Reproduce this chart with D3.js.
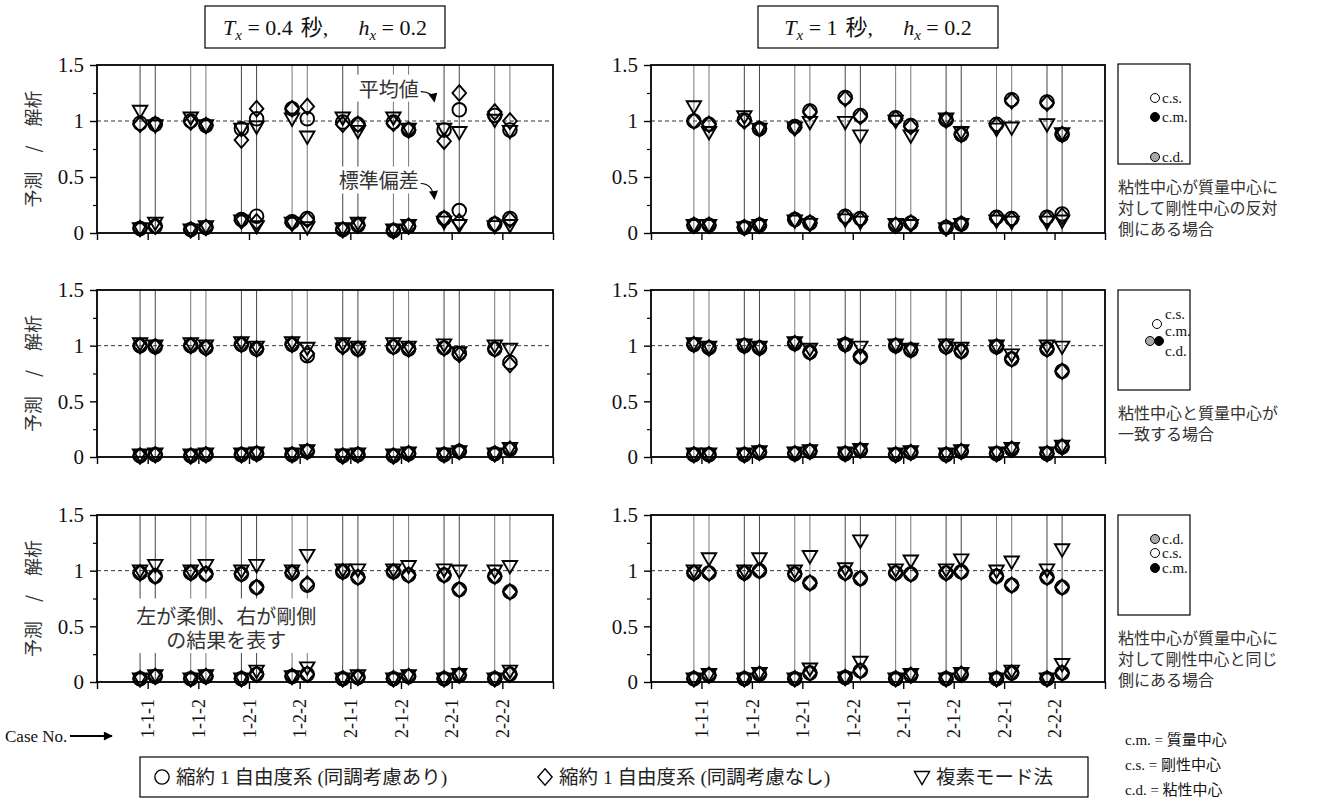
<!DOCTYPE html>
<html><head><meta charset="utf-8">
<script src="https://cdn.jsdelivr.net/npm/d3@7/dist/d3.min.js"></script>
<style>body{margin:0;background:#fff} svg{display:block}</style>
</head><body><svg id="c" width="1325" height="798"></svg>
<script>
// ---------------- DATA ----------------
const cases = ["1-1-1","1-1-2","1-2-1","1-2-2","2-1-1","2-1-2","2-2-1","2-2-2"];
const yTickValues = [0, 0.5, 1, 1.5];
const yTickLabels = ["0", "0.5", "1", "1.5"];
const yMinorTicks = [0.25, 0.75, 1.25];
const methods = ["縮約 1 自由度系 (同調考慮あり)", "縮約 1 自由度系 (同調考慮なし)", "複素モード法"];
const titlePeriods = ["0.4", "1"];
const titleDamping = "0.2";
const yLabel = "予測 / 解析";
const sideNotes = [
  ["粘性中心が質量中心に", "対して剛性中心の反対", "側にある場合"],
  ["粘性中心と質量中心が", "一致する場合"],
  ["粘性中心が質量中心に", "対して剛性中心と同じ", "側にある場合"]
];
const definitions = ["c.m. = 質量中心", "c.s. = 剛性中心", "c.d. = 粘性中心"];

// each entry: [left (柔側), right (剛側)]
// Panel A : Tx=0.4, opposite side
const A_circleMean  = [[0.98,0.97],[1.00,0.96],[0.93,1.02],[1.11,1.02],[0.99,0.97],[0.99,0.92],[0.92,1.10],[1.05,0.92]];
const A_diamondMean = [[0.97,0.97],[0.99,0.96],[0.83,1.11],[1.11,1.13],[0.97,0.97],[0.98,0.92],[0.82,1.25],[1.08,1.00]];
const A_triMean     = [[1.09,0.96],[1.03,0.96],[0.93,0.95],[1.02,0.86],[1.03,0.91],[1.03,0.93],[0.93,0.90],[1.01,0.91]];
const A_circleStd   = [[0.04,0.06],[0.03,0.05],[0.12,0.15],[0.10,0.13],[0.03,0.07],[0.02,0.06],[0.13,0.20],[0.08,0.13]];
const A_diamondStd  = [[0.04,0.06],[0.03,0.05],[0.11,0.10],[0.09,0.12],[0.03,0.07],[0.02,0.06],[0.13,0.10],[0.08,0.12]];
const A_triStd      = [[0.04,0.09],[0.03,0.06],[0.11,0.06],[0.09,0.05],[0.04,0.09],[0.03,0.07],[0.10,0.07],[0.06,0.07]];
// Panel B : Tx=1, opposite side
const B_circleMean  = [[1.00,0.97],[1.01,0.93],[0.95,1.09],[1.21,1.05],[1.03,0.96],[1.01,0.88],[0.97,1.19],[1.17,0.88]];
const B_diamondMean = [[1.00,0.97],[1.00,0.93],[0.94,1.08],[1.20,1.04],[1.02,0.95],[1.01,0.88],[0.96,1.18],[1.16,0.88]];
const B_triMean     = [[1.13,0.90],[1.04,0.93],[0.94,0.99],[0.99,0.87],[1.00,0.87],[1.02,0.90],[0.93,0.94],[0.97,0.89]];
const B_circleStd   = [[0.07,0.07],[0.05,0.07],[0.12,0.09],[0.15,0.13],[0.07,0.09],[0.05,0.08],[0.14,0.13],[0.14,0.17]];
const B_diamondStd  = [[0.07,0.07],[0.05,0.07],[0.12,0.09],[0.14,0.12],[0.07,0.09],[0.05,0.08],[0.13,0.12],[0.13,0.15]];
const B_triStd      = [[0.07,0.07],[0.05,0.07],[0.11,0.08],[0.12,0.10],[0.08,0.07],[0.04,0.08],[0.11,0.10],[0.10,0.11]];
// Panel C : Tx=0.4, coincident
const C_circleMean  = [[1.00,0.99],[1.00,0.98],[1.01,0.97],[1.01,0.91],[1.00,0.97],[0.99,0.97],[0.98,0.93],[0.97,0.85]];
const C_diamondMean = [[1.00,0.99],[1.00,0.98],[1.01,0.97],[1.01,0.93],[0.99,0.97],[0.99,0.97],[0.98,0.92],[0.97,0.83]];
const C_triMean     = [[1.02,1.00],[1.02,1.00],[1.03,0.99],[1.03,0.98],[1.02,0.99],[1.02,0.99],[1.01,0.94],[1.00,0.97]];
const C_circleStd   = [[0.01,0.02],[0.01,0.02],[0.02,0.03],[0.02,0.05],[0.01,0.02],[0.01,0.03],[0.02,0.05],[0.03,0.07]];
const C_diamondStd  = [[0.01,0.02],[0.01,0.02],[0.02,0.03],[0.02,0.05],[0.01,0.02],[0.01,0.03],[0.02,0.05],[0.03,0.07]];
const C_triStd      = [[0.02,0.03],[0.02,0.03],[0.03,0.04],[0.03,0.06],[0.02,0.03],[0.02,0.04],[0.03,0.05],[0.03,0.08]];
// Panel D : Tx=1, coincident
const D_circleMean  = [[1.01,0.98],[1.00,0.98],[1.02,0.94],[1.01,0.90],[1.00,0.96],[0.99,0.95],[0.99,0.88],[0.97,0.77]];
const D_diamondMean = [[1.01,0.98],[1.00,0.98],[1.02,0.94],[1.01,0.90],[1.00,0.96],[0.99,0.95],[0.99,0.88],[0.97,0.77]];
const D_triMean     = [[1.02,0.99],[1.01,0.99],[1.03,0.97],[1.01,0.99],[1.01,0.97],[1.01,0.98],[1.00,0.92],[1.00,0.99]];
const D_circleStd   = [[0.02,0.02],[0.02,0.04],[0.03,0.05],[0.03,0.06],[0.02,0.04],[0.02,0.05],[0.03,0.07],[0.03,0.09]];
const D_diamondStd  = [[0.02,0.02],[0.02,0.04],[0.03,0.05],[0.03,0.06],[0.02,0.04],[0.02,0.05],[0.03,0.07],[0.03,0.09]];
const D_triStd      = [[0.03,0.03],[0.03,0.05],[0.04,0.06],[0.04,0.07],[0.03,0.05],[0.03,0.06],[0.04,0.08],[0.04,0.10]];
// Panel E : Tx=0.4, same side
const E_circleMean  = [[0.98,0.95],[0.98,0.97],[0.97,0.85],[0.98,0.87],[0.99,0.94],[0.99,0.96],[0.96,0.83],[0.95,0.81]];
const E_diamondMean = [[0.98,0.95],[0.98,0.97],[0.97,0.85],[0.98,0.88],[0.99,0.94],[0.99,0.96],[0.96,0.83],[0.95,0.81]];
const E_triMean     = [[1.00,1.05],[1.00,1.05],[1.00,1.05],[1.00,1.14],[1.01,1.01],[1.01,1.04],[1.01,1.00],[1.00,1.04]];
const E_circleStd   = [[0.03,0.05],[0.03,0.05],[0.03,0.07],[0.05,0.07],[0.03,0.04],[0.03,0.05],[0.03,0.06],[0.03,0.07]];
const E_diamondStd  = [[0.03,0.05],[0.03,0.05],[0.03,0.07],[0.05,0.07],[0.03,0.04],[0.03,0.05],[0.03,0.06],[0.03,0.07]];
const E_triStd      = [[0.03,0.06],[0.03,0.06],[0.03,0.10],[0.05,0.13],[0.03,0.06],[0.03,0.06],[0.03,0.07],[0.03,0.10]];
// Panel F : Tx=1, same side
const F_circleMean  = [[0.98,0.98],[0.98,1.00],[0.97,0.89],[0.98,0.93],[0.98,0.97],[0.98,0.99],[0.95,0.87],[0.94,0.85]];
const F_diamondMean = [[0.98,0.98],[0.98,1.00],[0.97,0.89],[0.98,0.93],[0.98,0.97],[0.98,0.99],[0.95,0.87],[0.94,0.85]];
const F_triMean     = [[1.00,1.11],[1.00,1.11],[1.00,1.13],[1.02,1.27],[1.01,1.09],[1.01,1.10],[1.00,1.08],[1.01,1.19]];
const F_circleStd   = [[0.03,0.06],[0.03,0.07],[0.03,0.08],[0.04,0.10],[0.03,0.06],[0.03,0.07],[0.03,0.08],[0.03,0.08]];
const F_diamondStd  = [[0.03,0.06],[0.03,0.07],[0.03,0.08],[0.04,0.10],[0.03,0.06],[0.03,0.07],[0.03,0.08],[0.03,0.08]];
const F_triStd      = [[0.03,0.07],[0.03,0.08],[0.03,0.12],[0.04,0.18],[0.03,0.07],[0.03,0.08],[0.03,0.10],[0.03,0.16]];

// ---------------- LAYOUT ----------------
const LATIN = "'Liberation Serif','Noto Sans CJK JP',serif";
const CJK = "'Noto Sans CJK JP',sans-serif";
const colX = [[97, 553], [651, 1105]];
const rowY = [[65, 233], [290, 457], [515, 682]];
const sideOffset = 0.15;

const panels = [
  {col:0,row:0, d:{circle:[A_circleMean,A_circleStd], diamond:[A_diamondMean,A_diamondStd], tri:[A_triMean,A_triStd]}},
  {col:1,row:0, d:{circle:[B_circleMean,B_circleStd], diamond:[B_diamondMean,B_diamondStd], tri:[B_triMean,B_triStd]}},
  {col:0,row:1, d:{circle:[C_circleMean,C_circleStd], diamond:[C_diamondMean,C_diamondStd], tri:[C_triMean,C_triStd]}},
  {col:1,row:1, d:{circle:[D_circleMean,D_circleStd], diamond:[D_diamondMean,D_diamondStd], tri:[D_triMean,D_triStd]}},
  {col:0,row:2, d:{circle:[E_circleMean,E_circleStd], diamond:[E_diamondMean,E_diamondStd], tri:[E_triMean,E_triStd]}},
  {col:1,row:2, d:{circle:[F_circleMean,F_circleStd], diamond:[F_diamondMean,F_diamondStd], tri:[F_triMean,F_triStd]}}
];

const shapes = {
  circle: "M6.8,0A6.8,6.8 0 1,1 -6.8,0A6.8,6.8 0 1,1 6.8,0Z",
  diamond: "M0,-7.8L6.8,0L0,7.8L-6.8,0Z",
  tri: "M-7.2,-5.2L7.2,-5.2L0,7.2Z"
};

const svg = d3.select("#c");
const defs = svg.append("defs");
defs.append("marker").attr("id","ah").attr("viewBox","0 0 10 10").attr("refX",9).attr("refY",5)
  .attr("markerWidth",10).attr("markerHeight",9).attr("markerUnits","userSpaceOnUse").attr("orient","auto")
  .append("path").attr("d","M0,0L10,5L0,10Z").attr("fill","#000");

panels.forEach(p => {
  const x = d3.scaleLinear().domain([0, 9]).range(colX[p.col]);
  const y = d3.scaleLinear().domain([0, 1.5]).range([rowY[p.row][1], rowY[p.row][0]]);
  const g = svg.append("g");

  cases.forEach((c, i) => {
    [-1, 1].forEach(s => {
      g.append("line").attr("x1", x(i + 1 + s * sideOffset)).attr("x2", x(i + 1 + s * sideOffset))
        .attr("y1", y(1.5)).attr("y2", y(0)).attr("stroke", i % 2 === p.col ? "#444" : "#777").attr("stroke-width", 1);
    });
  });
  g.append("line").attr("x1", x(0)).attr("x2", x(9)).attr("y1", y(1)).attr("y2", y(1))
    .attr("stroke", "#333").attr("stroke-width", 1).attr("stroke-dasharray", "4,3");

  const ya = g.append("g").attr("transform", `translate(${x(0)},0)`)
    .call(d3.axisLeft(y).tickValues(yTickValues).tickSize(7).tickPadding(6)
      .tickFormat((d, i) => yTickLabels[i]));
  ya.select(".domain").remove();
  ya.selectAll("text").attr("font-family", LATIN).attr("font-size", 21).attr("fill", "#111");
  ya.selectAll("line").attr("stroke-width", 1.4);
  const ym = g.append("g").attr("transform", `translate(${x(0)},0)`)
    .call(d3.axisLeft(y).tickValues(yMinorTicks).tickSize(4).tickFormat(""));
  ym.select(".domain").remove();
  ym.selectAll("line").attr("stroke-width", 1.2);

  const xa = g.append("g").attr("transform", `translate(0,${y(0)})`)
    .call(d3.axisBottom(x).tickValues(d3.range(0, 10)).tickSize(7).tickFormat(""));
  xa.select(".domain").remove();
  xa.selectAll("line").attr("stroke-width", 1.4);

  if (p.row === 2) {
    const xl = g.append("g").attr("transform", `translate(0,${y(0)})`)
      .call(d3.axisBottom(x).tickValues(d3.range(1, 9)).tickSize(0).tickFormat(d => cases[d - 1]));
    xl.select(".domain").remove();
    xl.selectAll("text").attr("font-family", LATIN).attr("font-size", 18).attr("fill", "#111")
      .attr("text-anchor", "end").attr("transform", "rotate(-90)")
      .attr("x", -17).attr("y", 0).attr("dy", "0.35em");
  }

  g.append("rect").attr("x", x(0)).attr("y", y(1.5)).attr("width", x(9) - x(0)).attr("height", y(0) - y(1.5))
    .attr("fill", "none").attr("stroke", "#000").attr("stroke-width", 1.8);

  if (p.col === 0) {
    g.append("text").attr("transform", `translate(34,${(y(0) + y(1.5)) / 2}) rotate(-90)`)
      .attr("text-anchor", "middle").attr("dy", "0.35em").attr("font-family", CJK).attr("font-size", 18)
      .attr("word-spacing", 15).attr("fill", "#333").text(yLabel);
  }
  p.x = x; p.y = y; p.g = g;
});

// annotation in bottom-left panel (white box over lines)
{
  const p = panels[4];
  const cx = p.x(2.55);
  const ag = svg.append("g");
  ag.append("rect").attr("x", cx - 97).attr("y", p.y(0.75)).attr("width", 194).attr("height", p.y(0.26) - p.y(0.75)).attr("fill", "#fff");
  ["左が柔側、右が剛側", "の結果を表す"].forEach((t, i) => {
    ag.append("text").attr("x", cx).attr("y", p.y(0.58) + i * 24).attr("text-anchor", "middle")
      .attr("dy", "0.35em").attr("font-family", CJK).attr("font-size", 20).attr("fill", "#333").text(t);
  });
}

// annotations in top-left panel
{
  const p = panels[0];
  const ag = svg.append("g");
  const notes = [
    {t: "平均値", v: 1.28, tx: 6.7, tv: 1.12},
    {t: "標準偏差", v: 0.46, tx: 6.7, tv: 0.25}
  ];
  notes.forEach(n => {
    const tx = ag.append("text").attr("x", p.x(6.35)).attr("y", p.y(n.v)).attr("text-anchor", "end")
      .attr("dy", "0.35em").attr("font-family", CJK).attr("font-size", 20).attr("fill", "#333").text(n.t);
    const bb = tx.node().getBBox();
    ag.insert("rect", "text").attr("x", bb.x - 2).attr("y", bb.y + 1).attr("width", bb.width + 4).attr("height", bb.height - 2).attr("fill", "#fff");
    const x0 = p.x(6.35) + 2, y0 = p.y(n.v) + 2;
    const x1 = p.x(n.tx) - 2, y1 = p.y(n.tv) - 6;
    ag.append("path").attr("d", `M${x0},${y0} Q${x1 - 2},${y0} ${x1},${y1}`)
      .attr("fill", "none").attr("stroke", "#000").attr("stroke-width", 1.2).attr("marker-end", "url(#ah)");
  });
}

// markers
panels.forEach(p => {
  const mg = svg.append("g");
  ["tri", "diamond", "circle"].forEach(k => {
    const [mean, std] = p.d[k];
    [mean, std].forEach(arr => {
      arr.forEach((pair, i) => {
        pair.forEach((v, s) => {
          mg.append("path").attr("d", shapes[k])
            .attr("transform", `translate(${p.x(i + 1 + (s === 0 ? -1 : 1) * sideOffset)},${p.y(v)})`)
            .attr("fill", "none").attr("stroke", "#000").attr("stroke-width", 1.9);
        });
      });
    });
  });
});

// titles
titlePeriods.forEach((per, c) => {
  const cx = (colX[c][0] + colX[c][1]) / 2;
  const t = svg.append("text").attr("x", cx).attr("y", 35).attr("text-anchor", "middle")
    .attr("font-family", LATIN).attr("font-size", 22).attr("fill", "#111");
  t.append("tspan").attr("font-style", "italic").text("T");
  t.append("tspan").attr("font-style", "italic").attr("font-size", 15).attr("dy", 5).text("x");
  t.append("tspan").attr("dy", -5).text(` = ${per}`);
  t.append("tspan").attr("dx", 8).text("秒,");
  t.append("tspan").attr("dx", 30).attr("font-style", "italic").text("h");
  t.append("tspan").attr("font-style", "italic").attr("font-size", 15).attr("dy", 5).text("x");
  t.append("tspan").attr("dy", -5).text(` = ${titleDamping}`);
  svg.append("rect").attr("x", cx - 120).attr("y", 6).attr("width", 240).attr("height", 42)
    .attr("fill", "none").attr("stroke", "#000").attr("stroke-width", 1.2);
});

// Case No. arrow
svg.append("text").attr("x", 5).attr("y", 736).attr("dy", "0.35em").attr("font-family", LATIN)
  .attr("font-size", 17).attr("fill", "#111").text("Case No.");
svg.append("line").attr("x1", 70).attr("x2", 112).attr("y1", 736).attr("y2", 736)
  .attr("stroke", "#000").attr("stroke-width", 2).attr("marker-end", "url(#ah)");

// bottom legend
{
  const lg = svg.append("g");
  const items = [{k:"circle", x:162}, {k:"diamond", x:545}, {k:"tri", x:922}];
  items.forEach((it, i) => {
    lg.append("path").attr("d", shapes[it.k]).attr("transform", `translate(${it.x},777) scale(1.05)`)
      .attr("fill", "none").attr("stroke", "#000").attr("stroke-width", 1.3);
    lg.append("text").attr("x", it.x + 14).attr("y", 777).attr("dy", "0.35em").attr("font-family", LATIN)
      .attr("font-size", 19.5).attr("fill", "#222").text(methods[i]);
  });
  lg.append("rect").attr("x", 140).attr("y", 757).attr("width", 948).attr("height", 40)
    .attr("fill", "none").attr("stroke", "#000").attr("stroke-width", 1.2);
}

// right-side schematic boxes and notes
{
  const bx = 1118, bw = 72, bh = 100;
  const boxes = [
    {y: 64, pts: [{x:1155, y:98, f:"#fff"}, {x:1155, y:117, f:"#000"}, {x:1155, y:157, f:"#aaa"}]},
    {y: 290, pts: [{x:1157, y:324, f:"#fff"}, {x:1159, y:341, f:"#000"}, {x:1150, y:341, f:"#aaa"}]},
    {y: 515, pts: [{x:1155, y:539, f:"#aaa"}, {x:1155, y:553, f:"#fff"}, {x:1155, y:568, f:"#000"}]}
  ];
  boxes.forEach((b, r) => {
    svg.append("rect").attr("x", bx).attr("y", b.y).attr("width", bw).attr("height", bh)
      .attr("fill", "none").attr("stroke", "#000").attr("stroke-width", 1.2);
    b.pts.forEach(pt => {
      svg.append("circle").attr("cx", pt.x).attr("cy", pt.y).attr("r", 4.5).attr("fill", pt.f)
        .attr("stroke", "#000").attr("stroke-width", 1);
    });
    const lines = sideNotes[r];
    const y0 = b.y + bh + 23;
    lines.forEach((t, i) => {
      svg.append("text").attr("x", bx).attr("y", y0 + i * 21).attr("dy", "0.35em").attr("font-family", CJK)
        .attr("font-size", 16).attr("fill", "#333").text(t);
    });
  });
  const lab = [
    ["c.s.", 1162, 98], ["c.m.", 1162, 117], ["c.d.", 1162, 157],
    ["c.s.", 1165, 314], ["c.m.", 1165, 331], ["c.d.", 1165, 351],
    ["c.d.", 1162, 539], ["c.s.", 1162, 553], ["c.m.", 1162, 568]
  ];
  lab.forEach(l => svg.append("text").attr("x", l[1]).attr("y", l[2]).attr("dy", "0.35em")
    .attr("font-family", LATIN).attr("font-size", 15).attr("fill", "#111").text(l[0]));
  definitions.forEach((t, i) => {
    svg.append("text").attr("x", 1125).attr("y", 740 + i * 25).attr("dy", "0.35em").attr("font-family", LATIN)
      .attr("font-size", 15).attr("fill", "#111").text(t);
  });
}
</script></body></html>
